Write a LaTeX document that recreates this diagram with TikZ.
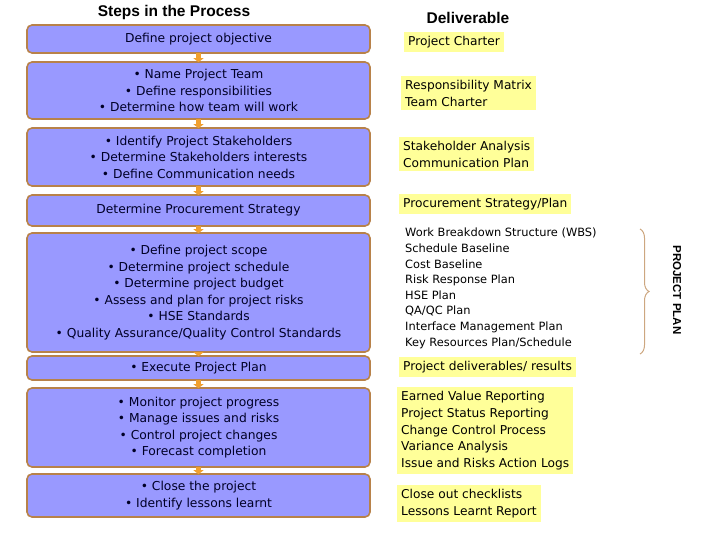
\documentclass[tikz,border=0pt]{standalone}
\usepackage{fontspec}
\setmainfont{DejaVu Sans}
\newfontfamily\titlefont{Liberation Sans}
\usetikzlibrary{decorations.pathreplacing,arrows.meta}
\definecolor{stepfill}{HTML}{9999FF}
\definecolor{stepedge}{HTML}{B8824A}
\definecolor{delfill}{HTML}{FFFF99}
\definecolor{arr}{HTML}{F0A030}
\tikzset{
 stepbox/.style={draw=stepedge,line width=1.6pt,fill=stepfill,rounded corners=5pt,align=center,font=\fontsize{12.3}{16.5}\selectfont,text=black!85!blue},
 delbox/.style={fill=delfill,align=left,anchor=north west,font=\fontsize{12.2}{16.8}\selectfont,inner sep=4pt},
 flow/.style={draw=arr,line width=5pt,-{Triangle[length=4pt,width=10pt]},shorten >=-1pt,shorten <=-1pt},
 ttl/.style={font=\titlefont\bfseries\fontsize{15.5}{17}\selectfont}
}
\begin{document}
\begin{tikzpicture}[x=1pt,y=-1pt]
\useasboundingbox (0,0) rectangle (720,540);
\node[ttl] (t1) at (174,12) {Steps in the Process};
\node[ttl] (t2) at (468,18) {Deliverable};
\newcommand\stp[4]{\node[stepbox,minimum width=343pt,minimum height=#3pt] (#1) at (198.5,#2) {#4};}
\stp{s1}{39}{28}{Define project objective}
\stp{s2}{90.5}{57}{• Name Project Team\\• Define responsibilities\\• Determine how team will work}
\stp{s3}{157}{58}{• Identify Project Stakeholders\\• Determine Stakeholders interests\\• Define Communication needs}
\stp{s4}{210.5}{31}{Determine Procurement Strategy}
\stp{s5}{292.5}{119}{• Define project scope\\• Determine project schedule\\• Determine project budget\\• Assess and plan for project risks\\• HSE Standards\\• Quality Assurance/Quality Control Standards}
\stp{s6}{368}{24}{• Execute Project Plan}
\stp{s7}{427.5}{79}{• Monitor project progress\\• Manage issues and risks\\• Control project changes\\• Forecast completion}
\stp{s8}{495.5}{43}{• Close the project\\• Identify lessons learnt}
\foreach \a/\b in {s1/s2,s2/s3,s3/s4,s4/s5,s5/s6,s6/s7,s7/s8}
  \draw[flow] (\a.south) -- (\b.north);
\node[delbox] (d1) at (404,32) {Project Charter};
\node[delbox] (d2) at (401,76) {Responsibility Matrix\\Team Charter};
\node[delbox] (d3) at (399,137) {Stakeholder Analysis\\Communication Plan};
\node[delbox] (d4) at (399,194) {Procurement Strategy/Plan};
\node[delbox,fill=none,font=\fontsize{11.4}{15.6}\selectfont] (d5) at (401,224) {Work Breakdown Structure (WBS)\\Schedule Baseline\\Cost Baseline\\Risk Response Plan\\HSE Plan\\QA/QC Plan\\Interface Management Plan\\Key Resources Plan/Schedule};
\node[delbox] (d6) at (399,357) {Project deliverables/ results};
\node[delbox] (d7) at (397,387) {Earned Value Reporting\\Project Status Reporting\\Change Control Process\\Variance Analysis\\Issue and Risks Action Logs};
\node[delbox] (d8) at (397,485) {Close out checklists\\Lessons Learnt Report};
\coordinate (bt) at (640,229);
\coordinate (bb) at (640,354);
\draw[draw=stepedge!70,line width=1pt,decorate,decoration={brace,amplitude=9pt}] (bt) -- (bb);
\node[ttl,font=\titlefont\bfseries\fontsize{11.5}{13}\selectfont,rotate=-90] (pp) at (677,290) {PROJECT PLAN};
\end{tikzpicture}
\end{document}
